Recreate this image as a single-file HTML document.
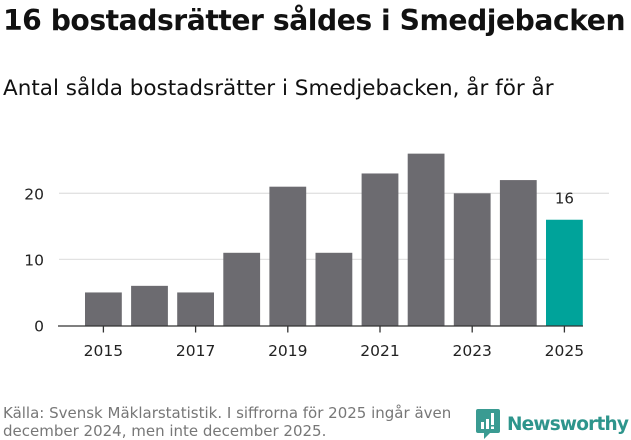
<!DOCTYPE html>
<html><head><meta charset="utf-8"><style>
body{margin:0;width:631px;height:439px;background:#fff;font-family:"DejaVu Sans","Liberation Sans",sans-serif;color:#111;overflow:hidden;position:relative}
#title{position:absolute;left:3px;top:4px;font-size:28.2px;font-weight:bold;margin:0;letter-spacing:-0.45px;white-space:nowrap}
#sub{position:absolute;left:3px;top:76px;font-size:21.5px;white-space:nowrap}
#src{position:absolute;left:3px;top:404px;font-size:15px;color:#777;line-height:18px;white-space:nowrap}
#logo{position:absolute;left:476px;top:409px;display:flex;align-items:center}
#logo span{font-size:18.5px;color:#2e958c;font-weight:bold;margin-left:7px;letter-spacing:-0.8px}
svg{position:absolute;left:0;top:0}
</style></head><body>
<h1 id="title">16 bostadsrätter såldes i Smedjebacken</h1>
<div id="sub">Antal sålda bostadsrätter i Smedjebacken, år för år</div>
<svg id="chart" width="631" height="439"></svg>
<div id="src">Källa: Svensk Mäklarstatistik. I siffrorna för 2025 ingår även<br>december 2024, men inte december 2025.</div>
<div id="logo">
<svg width="24" height="30" viewBox="0 0 24 30" style="position:static"><path d="M2 0h20a2 2 0 0 1 2 2v20a2 2 0 0 1-2 2H14l-6 6v-6H2a2 2 0 0 1-2-2V2a2 2 0 0 1 2-2z" fill="#3a9b92"/><rect x="5" y="13" width="3" height="7" fill="#fff"/><rect x="10" y="10" width="3" height="10" fill="#fff"/><rect x="15" y="4" width="3" height="12" fill="#fff"/><rect x="15" y="17.5" width="3" height="2.5" fill="#fff"/></svg>
<span>Newsworthy</span></div>
<script>
const years=[2015,2016,2017,2018,2019,2020,2021,2022,2023,2024,2025];
const values=[5,6,5,11,21,11,23,26,20,22,16];
const yTicks=[0,10,20];
const xTickLabels=[2015,2017,2019,2021,2023,2025];
const NS="http://www.w3.org/2000/svg";
const svg=document.getElementById('chart');
const y=v=>325.5-v*6.61;
const x=i=>103.4+i*46.1;
const bw=36.8;
function mk(t,a){const e=document.createElementNS(NS,t);for(const k in a)e.setAttribute(k,a[k]);svg.appendChild(e);return e;}
yTicks.forEach(t=>{
 if(t>0){const g=mk('line',{x1:59,x2:609,y1:y(t),y2:y(t),stroke:'#e2e2e2','stroke-width':1.3});
 
 }
 const l=mk('text',{x:44,y:y(t)+6,'text-anchor':'end','font-size':15.5,fill:'#222'});l.textContent=t;
 
 
});
years.forEach((yr,i)=>{
 const last=i===years.length-1;
 const r=mk('rect',{x:x(i)-bw/2,y:y(values[i]),width:bw,height:y(0)-y(values[i]),fill:last?'#00a39a':'#6c6b70'});
 
 
 if(last){const t=mk('text',{x:x(i),y:y(values[i])-16,'text-anchor':'middle','font-size':15,fill:'#222'});t.textContent=values[i];
 
 }
});
const ax=mk('line',{x1:58,x2:583,y1:y(0)+0.5,y2:y(0)+0.5,stroke:'#333','stroke-width':1.3});


xTickLabels.forEach(yr=>{
 const i=years.indexOf(yr);
 const tk=mk('line',{x1:x(i),x2:x(i),y1:y(0)+1,y2:y(0)+7,stroke:'#333','stroke-width':1.3});
 
 
 const t=mk('text',{x:x(i),y:356,'text-anchor':'middle','font-size':15.5,fill:'#222'});t.textContent=yr;
 
 
});
</script>
</body></html>
